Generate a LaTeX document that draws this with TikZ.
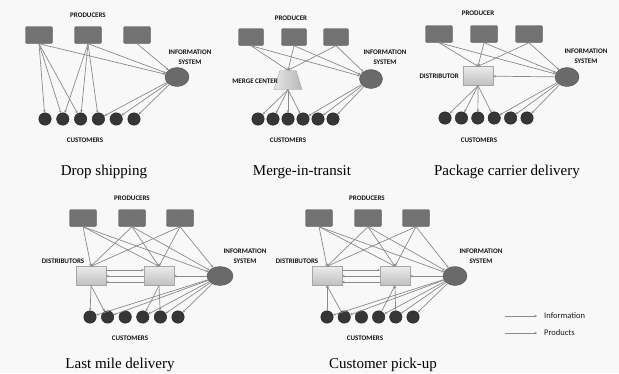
\documentclass[tikz,border=0pt]{standalone}
\usepackage{fontspec}
\setmainfont{Liberation Serif}
\newfontfamily\labfont{Carlito}
\usetikzlibrary{shapes.geometric,arrows.meta}

\definecolor{edgegray}{HTML}{8A8A8A}
\definecolor{boxgray}{HTML}{727272}
\definecolor{boxline}{HTML}{555555}
\definecolor{custgray}{HTML}{363636}
\definecolor{infogray}{HTML}{6A6A6A}
\definecolor{paper}{HTML}{F8F8F8}

\begin{document}
\begin{tikzpicture}[x=1pt,y=-1pt,
  producer/.style={draw=boxline,fill=boxgray,rounded corners=1.5pt,minimum width=27pt,minimum height=17pt,inner sep=0},
  customer/.style={circle,draw=black!85,fill=custgray,minimum size=12.5pt,inner sep=0},
  infosys/.style={ellipse,draw=boxline,fill=infogray,minimum width=24pt,minimum height=19pt,inner sep=0},
  distrib/.style={draw=black!35,top color=black!8,bottom color=black!25,minimum width=30pt,minimum height=19pt,inner sep=0},
  mergebox/.style={trapezium,trapezium angle=70,trapezium stretches=true,draw=black!35,left color=black!10,right color=black!28,minimum width=28pt,minimum height=19pt,inner sep=1pt},
  lab/.style={font=\labfont\bfseries\fontsize{7}{9.5}\selectfont,text=black!92,inner sep=0,align=center},
  captiontext/.style={font=\fontsize{15}{16}\selectfont,inner sep=0},
  link/.style={draw=edgegray,line width=0.7pt,-{Stealth[length=2.5pt,width=2.5pt]}}]

\fill[paper] (0,0) rectangle (619,373);
\useasboundingbox (0,0) rectangle (619,373);

%%%%%%%%%%%%%%%%%%%%%%%%%%%%%%%%%%%%%% drop shipping
\node[lab] at (88,15) (La) {PRODUCERS};
\node[producer] at (39,35) (Pa_1) {};
\node[producer] at (88,35) (Pa_2) {};
\node[producer] at (137,35) (Pa_3) {};
\node[infosys] at (177,77) (Ia) {};
\node[lab] at (190,57) (Ia_t) {INFORMATION\\SYSTEM};
\node[customer] at (45,119) (Ca_1) {};
\node[customer] at (62.8,119) (Ca_2) {};
\node[customer] at (80.6,119) (Ca_3) {};
\node[customer] at (98.4,119) (Ca_4) {};
\node[customer] at (116.2,119) (Ca_5) {};
\node[customer] at (134,119) (Ca_6) {};
\node[lab] at (85,140) (Ca_t) {CUSTOMERS};
\node[captiontext] at (104,172) (Ta) {Drop shipping};

\draw[link] (Pa_1.south) -- (Ca_1);
\draw[link] (Pa_1.south) -- (Ca_2);
\draw[link] (Pa_1.south) -- (Ca_3);
\draw[link] (Pa_2.south) -- (Ca_2);
\draw[link] (Pa_2.south) -- (Ca_3);
\draw[link] (Pa_2.south) -- (Ca_4);
\draw[link] (Pa_1.south) -- (Ia);
\draw[link] (Pa_2.south) -- (Ia);
\draw[link] (Pa_3.south) -- (Ia);
\draw[link] (Ia) -- (Ca_4);
\draw[link] (Ia) -- (Ca_5);
\draw[link] (Ia) -- (Ca_6);

%%%%%%%%%%%%%%%%%%%%%%%%%%%%%%%%%%%%%% merge-in-transit
\node[lab] at (291,18) (Lb) {PRODUCER};
\node[producer,minimum width=25pt] at (251,37) (Pb_1) {};
\node[producer,minimum width=25pt] at (294,37) (Pb_2) {};
\node[producer,minimum width=25pt] at (336,37) (Pb_3) {};
\node[mergebox] at (288,80) (Mb) {};
\node[lab,anchor=east] at (278,81) (Mb_t) {MERGE CENTER};
\node[infosys,minimum width=23pt] at (371,79) (Ib) {};
\node[lab] at (385,57) (Ib_t) {INFORMATION\\SYSTEM};
\node[customer] at (258,119) (Cb_1) {};
\node[customer] at (273,119) (Cb_2) {};
\node[customer] at (288,119) (Cb_3) {};
\node[customer] at (303,119) (Cb_4) {};
\node[customer] at (318,119) (Cb_5) {};
\node[customer] at (333,119) (Cb_6) {};
\node[lab] at (288,140) (Cb_t) {CUSTOMERS};
\node[captiontext] at (302,172) (Tb) {Merge-in-transit};

\draw[link] (Pb_1.south) -- (Mb.north);
\draw[link] (Pb_2.south) -- (Mb.north);
\draw[link] (Pb_3.south) -- (Mb.north);
\draw[link] (Pb_1.south) -- (Ib);
\draw[link] (Pb_2.south) -- (Ib);
\draw[link] (Pb_3.south) -- (Ib);
\draw[link] (Mb.south) -- (Cb_1);
\draw[link] (Mb.south) -- (Cb_2);
\draw[link] (Mb.south) -- (Cb_3);
\draw[link] (Mb.south) -- (Cb_4);
\draw[link] (Ib) -- (Cb_4);
\draw[link] (Ib) -- (Cb_5);
\draw[link] (Ib) -- (Cb_6);

%%%%%%%%%%%%%%%%%%%%%%%%%%%%%%%%%%%%%% package carrier delivery
\node[lab] at (478,13) (Lc) {PRODUCER};
\node[producer] at (439,34) (Pc_1) {};
\node[producer] at (484,34) (Pc_2) {};
\node[producer] at (529,34) (Pc_3) {};
\node[distrib] at (478,76) (Dc) {};
\node[lab,anchor=east] at (459,76) (Dc_t) {DISTRIBUTOR};
\node[infosys] at (567,77) (Ic) {};
\node[lab] at (586,56) (Ic_t) {INFORMATION\\SYSTEM};
\node[customer] at (445,118) (Cc_1) {};
\node[customer] at (461.4,118) (Cc_2) {};
\node[customer] at (477.8,118) (Cc_3) {};
\node[customer] at (494.2,118) (Cc_4) {};
\node[customer] at (510.6,118) (Cc_5) {};
\node[customer] at (527,118) (Cc_6) {};
\node[lab] at (479,140) (Cc_t) {CUSTOMERS};
\node[captiontext] at (507,172) (Tc) {Package carrier delivery};

\draw[link] (Pc_1.south) -- (Dc.north);
\draw[link] (Pc_2.south) -- (Dc.north);
\draw[link] (Pc_3.south) -- (Dc.north);
\draw[link] (Pc_1.south) -- (Ic);
\draw[link] (Pc_2.south) -- (Ic);
\draw[link] (Pc_3.south) -- (Ic);
\draw[link] (Ic) -- (Dc);
\draw[link] (Dc.south) -- (Cc_1);
\draw[link] (Dc.south) -- (Cc_2);
\draw[link] (Dc.south) -- (Cc_3);
\draw[link] (Dc.south) -- (Cc_4);
\draw[link] (Ic) -- (Cc_4);
\draw[link] (Ic) -- (Cc_5);
\draw[link] (Ic) -- (Cc_6);

%%%%%%%%%%%%%%%%%%%%%%%%%%%%%%%%%%%%%% last mile delivery
\node[lab] at (132,198) (Ld) {PRODUCERS};
\node[producer] at (83,218) (Pd_1) {};
\node[producer] at (132,218) (Pd_2) {};
\node[producer] at (180,218) (Pd_3) {};
\node[distrib] at (91,276) (Dd_1) {};
\node[distrib] at (159,276) (Dd_2) {};
\node[lab] at (63,261) (Dd_t) {DISTRIBUTORS};
\node[infosys,minimum width=26pt] at (220,276) (Id) {};
\node[lab] at (245,256) (Id_t) {INFORMATION\\SYSTEM};
\node[customer] at (90,317) (Cd_1) {};
\node[customer] at (107.6,317) (Cd_2) {};
\node[customer] at (125.2,317) (Cd_3) {};
\node[customer] at (142.8,317) (Cd_4) {};
\node[customer] at (160.4,317) (Cd_5) {};
\node[customer] at (178,317) (Cd_6) {};
\node[lab] at (130,338) (Cd_t) {CUSTOMERS};
\node[captiontext] at (120,365) (Td) {Last mile delivery};

\draw[link] (Pd_1.south) -- (Dd_1.north);
\draw[link] (Pd_1.south) -- (Dd_2.north);
\draw[link] (Pd_2.south) -- (Dd_1.north);
\draw[link] (Pd_2.south) -- (Dd_2.north);
\draw[link] (Pd_3.south) -- (Dd_1.north);
\draw[link] (Pd_3.south) -- (Dd_2.north);
\draw[link] (Pd_1.south) -- (Id);
\draw[link] (Pd_2.south) -- (Id);
\draw[link] (Pd_3.south) -- (Id);
\draw[link] ([yshift=-6pt]Dd_2.west) -- ([yshift=-6pt]Dd_1.east);
\draw[link] (Dd_2.west) -- (Dd_1.east);
\draw[link] ([yshift=6pt]Dd_1.east) -- ([yshift=6pt]Dd_2.west);
\draw[link] (Id) -- (Dd_2);
\draw[link] (Dd_1.south) -- (Cd_1);
\draw[link] (Dd_1.south) -- (Cd_2);
\draw[link] (Dd_2.south) -- (Cd_4);
\draw[link] (Dd_2.south) -- (Cd_5);
\draw[link] (Id) -- (Cd_1);
\draw[link] (Id) -- (Cd_2);
\draw[link] (Id) -- (Cd_4);
\draw[link] (Id) -- (Cd_5);
\draw[link] (Id) -- (Cd_6);

%%%%%%%%%%%%%%%%%%%%%%%%%%%%%%%%%%%%%% customer pick-up
\node[lab] at (367,198) (Le) {PRODUCERS};
\node[producer] at (319,218) (Pe_1) {};
\node[producer] at (368,218) (Pe_2) {};
\node[producer] at (416,218) (Pe_3) {};
\node[distrib] at (327,276) (De_1) {};
\node[distrib] at (395,276) (De_2) {};
\node[lab] at (297,261) (De_t) {DISTRIBUTORS};
\node[infosys] at (455,276) (Ie) {};
\node[lab] at (481,256) (Ie_t) {INFORMATION\\SYSTEM};
\node[customer] at (327,317) (Ce_1) {};
\node[customer] at (344.2,317) (Ce_2) {};
\node[customer] at (361.4,317) (Ce_3) {};
\node[customer] at (378.6,317) (Ce_4) {};
\node[customer] at (395.8,317) (Ce_5) {};
\node[customer] at (413,317) (Ce_6) {};
\node[lab] at (365,338) (Ce_t) {CUSTOMERS};
\node[captiontext] at (383,365) (Te) {Customer pick-up};

\draw[link] (Pe_1.south) -- (De_1.north);
\draw[link] (Pe_1.south) -- (De_2.north);
\draw[link] (Pe_2.south) -- (De_1.north);
\draw[link] (Pe_2.south) -- (De_2.north);
\draw[link] (Pe_3.south) -- (De_1.north);
\draw[link] (Pe_3.south) -- (De_2.north);
\draw[link] (Pe_1.south) -- (Ie);
\draw[link] (Pe_2.south) -- (Ie);
\draw[link] (Pe_3.south) -- (Ie);
\draw[link] ([yshift=-6pt]De_2.west) -- ([yshift=-6pt]De_1.east);
\draw[link] (De_2.west) -- (De_1.east);
\draw[link] ([yshift=6pt]De_1.east) -- ([yshift=6pt]De_2.west);
\draw[link] (Ie) -- (De_2);
\draw[link] (Ce_1) -- (De_1.south);
\draw[link] (Ce_2) -- (De_1.south);
\draw[link] (Ce_4) -- (De_2.south);
\draw[link] (Ce_5) -- (De_2.south);
\draw[link] (Ie) -- (Ce_1);
\draw[link] (Ie) -- (Ce_2);
\draw[link] (Ie) -- (Ce_4);
\draw[link] (Ie) -- (Ce_5);
\draw[link] (Ie) -- (Ce_6);

%%%%%%%%%%%%%%%%%%%%%%%%%%%%%%%%%%%%%% legend
\coordinate (K_1) at (505,316);
\coordinate (K_2) at (537,316);
\coordinate (K_3) at (505,333);
\coordinate (K_4) at (537,333);
\draw[link] (K_1) -- (K_2);
\draw[link] (K_3) -- (K_4);
\node[anchor=west,inner sep=0,text=black!90,font=\labfont\fontsize{8.5}{9}\selectfont] at (544,316) (Kt_1) {Information};
\node[anchor=west,inner sep=0,text=black!90,font=\labfont\fontsize{8.5}{9}\selectfont] at (544,333) (Kt_2) {Products};

\end{tikzpicture}
\end{document}
